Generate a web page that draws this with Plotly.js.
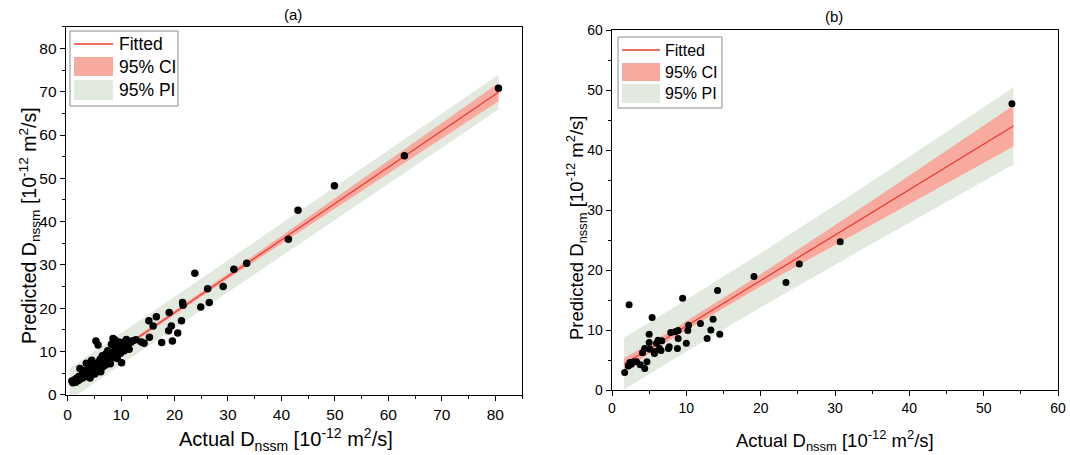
<!DOCTYPE html>
<html>
<head>
<meta charset="utf-8">
<script src="https://cdn.plot.ly/plotly-3.0.1.min.js"></script>
<style>html,body{margin:0;padding:0;background:#fff;}#chart{width:1070px;height:455px;}</style>
</head>
<body>
<div id="chart"></div>
<script>
// ---------- Panel (a) data ----------
const aActual = [0.8,1.0,1.3,1.5,1.7,2.0,2.1,2.3,2.4,2.6,2.8,3.0,3.1,3.3,3.5,3.6,3.8,3.9,4.1,4.2,4.4,4.5,4.6,4.8,5.0,5.1,5.3,5.4,5.5,5.7,5.8,5.9,6.1,6.2,6.4,6.5,6.6,6.8,7.0,7.1,7.2,7.4,7.5,7.7,7.9,8.0,8.2,8.3,8.5,8.6,8.8,8.9,9.0,9.2,9.3,9.5,9.6,9.8,9.9,10.1,10.2,10.4,10.6,10.8,11.0,11.2,11.5,11.8,12.2,
  12.8,13.8,14.3,15.2,15.3,16.0,16.6,17.6,19.0,18.9,19.4,19.6,20.6,21.3,21.5,21.6,23.8,24.9,26.2,26.5,29.1,31.1,33.5,41.3,43.1,49.9,63.0,80.6];
const aPred = [3.2,2.8,3.5,2.9,3.8,3.3,4.2,6.1,3.7,4.5,3.9,4.8,5.6,4.2,7.3,5.1,4.6,6.0,5.4,3.9,6.6,8.0,5.0,6.2,7.1,4.8,12.4,6.4,5.6,11.5,7.6,6.1,8.2,5.3,7.0,9.0,6.5,7.8,8.6,6.9,9.5,7.4,10.2,8.0,9.1,7.2,11.7,9.8,13.0,8.6,12.7,10.4,9.2,11.3,8.4,10.8,12.2,12.0,9.6,7.4,11.0,11.5,10.2,12.4,12.8,11.0,10.5,12.1,12.5,
  12.7,12.2,11.9,17.1,13.3,15.9,18.0,12.1,19.0,14.8,15.9,12.4,14.3,17.1,21.3,20.7,28.1,20.3,24.5,21.3,25.0,29.0,30.4,35.9,42.6,48.3,55.2,70.8];
const aBandX  = [0.4, 10, 30, 55, 80.6];
const aFit    = [2.5, 10.6, 27.4, 48.4, 69.9];
const aCILow  = [1.9, 10.2, 26.8, 47.1, 67.8];
const aCIHigh = [3.1, 11.0, 28.0, 49.7, 72.0];
const aPILow  = [-1.2, 7.0, 23.7, 44.6, 65.9];
const aPIHigh = [6.2, 14.2, 31.1, 52.2, 73.9];

// ---------- Panel (b) data ----------
const bActual = [1.7,2.2,2.4,2.6,2.9,3.3,2.3,3.8,4.4,4.7,4.1,4.4,5.0,5.0,5.4,5.8,6.0,6.2,6.4,6.6,6.7,7.6,7.7,7.9,8.5,8.8,8.9,8.9,9.5,10.0,10.2,10.3,11.9,12.8,13.3,13.6,14.2,14.5,19.1,23.4,25.2,30.7,53.8,5.1,5.7];
const bPred   = [2.9,4.0,4.6,4.3,4.7,4.7,14.2,4.2,3.6,4.7,6.2,6.9,9.3,7.9,12.1,6.4,7.8,8.3,6.9,6.6,8.2,6.9,7.2,9.6,9.7,6.9,9.9,8.6,15.3,7.8,9.9,10.8,11.1,8.6,10.0,11.8,16.6,9.3,18.9,17.9,21.0,24.7,47.7,6.8,6.1];
const bBandX  = [1.6, 8, 20, 35, 54];
const bFit    = [4.3, 9.2, 18.3, 29.6, 44.0];
const bCILow  = [3.3, 8.5, 17.3, 27.6, 40.6];
const bCIHigh = [5.3, 9.9, 19.3, 31.6, 47.4];
const bPILow  = [0.1, 4.9, 13.8, 24.4, 37.6];
const bPIHigh = [8.7, 13.5, 22.8, 34.8, 50.4];

const legendNames = ['Fitted', '95% CI', '95% PI'];
const panelTitles = ['(a)', '(b)'];
const xTitle = 'Actual D<sub>nssm</sub> [10<sup>-12</sup> m<sup>2</sup>/s]';
const yTitle = 'Predicted D<sub>nssm</sub> [10<sup>-12</sup> m<sup>2</sup>/s]';

const RED = 'rgb(238,58,52)';
const CI_FILL = 'rgb(248,170,158)';
const PI_FILL = 'rgb(226,234,224)';
const FONT = 'Liberation Sans, Arial, sans-serif';
const W = 1070, H = 455;
const px = v => v / W;
const py = v => 1 - v / H;

function band(x, lo, hi) {
  return {x: x.concat(x.slice().reverse()), y: hi.concat(lo.slice().reverse())};
}

function panelTraces(xa, ya, bx, fit, ciL, ciH, piL, piH, ptsX, ptsY, msize) {
  const pi = band(bx, piL, piH);
  const ci = band(bx, ciL, ciH);
  return [
    {x: pi.x, y: pi.y, xaxis: xa, yaxis: ya, type: 'scatter', mode: 'lines', fill: 'toself',
     fillcolor: PI_FILL, line: {width: 0, color: PI_FILL}, name: legendNames[2], showlegend: false, hoverinfo: 'skip'},
    {x: ci.x, y: ci.y, xaxis: xa, yaxis: ya, type: 'scatter', mode: 'lines', fill: 'toself',
     fillcolor: CI_FILL, line: {width: 0, color: CI_FILL}, name: legendNames[1], showlegend: false, hoverinfo: 'skip'},
    {x: [bx[0], bx[bx.length-1]], y: [fit[0], fit[fit.length-1]], xaxis: xa, yaxis: ya, type: 'scatter', mode: 'lines',
     line: {width: 1.3, color: RED}, name: legendNames[0], showlegend: false},
    {x: ptsX, y: ptsY, xaxis: xa, yaxis: ya, type: 'scatter', mode: 'markers',
     marker: {color: '#000', size: msize}, showlegend: false}
  ];
}

const traces = []
  .concat(panelTraces('x', 'y', aBandX, aFit, aCILow, aCIHigh, aPILow, aPIHigh, aActual, aPred, 7.5))
  .concat(panelTraces('x2', 'y2', bBandX, bFit, bCILow, bCIHigh, bPILow, bPIHigh, bActual, bPred, 7));

function axis(domain, range, dtick, anchor, tsize) {
  return {
    domain: domain, range: range, anchor: anchor, dtick: dtick, tick0: 0,
    showgrid: false, zeroline: false, showline: true, linecolor: '#000', linewidth: 1.3,
    mirror: true, ticks: 'outside', ticklen: 5, tickwidth: 1, tickcolor: '#000',
    minor: {dtick: dtick / 2, ticks: 'outside', ticklen: 3, tickcolor: '#000', showgrid: false},
    tickfont: {family: FONT, size: tsize, color: '#000'}, automargin: false
  };
}

// manual legends (pixel boxes)
function legendParts(box, lineY, ciBox, piBox, symX0, symX1, textX, textYs, fsize) {
  const shapes = [
    {type: 'rect', xref: 'paper', yref: 'paper', x0: px(box[0]), x1: px(box[1]), y0: py(box[2]), y1: py(box[3]),
     line: {color: '#8c8c8c', width: 1}, fillcolor: '#fff', layer: 'above'},
    {type: 'line', xref: 'paper', yref: 'paper', x0: px(symX0), x1: px(symX1), y0: py(lineY), y1: py(lineY),
     line: {color: RED, width: 1.5}, layer: 'above'},
    {type: 'rect', xref: 'paper', yref: 'paper', x0: px(symX0), x1: px(symX1), y0: py(ciBox[0]), y1: py(ciBox[1]),
     line: {width: 0}, fillcolor: CI_FILL, layer: 'above'},
    {type: 'rect', xref: 'paper', yref: 'paper', x0: px(symX0), x1: px(symX1), y0: py(piBox[0]), y1: py(piBox[1]),
     line: {width: 0}, fillcolor: PI_FILL, layer: 'above'}
  ];
  const anns = legendNames.map((n, i) => ({
    text: n, xref: 'paper', yref: 'paper', x: px(textX), y: py(textYs[i]), xanchor: 'left', yanchor: 'middle',
    showarrow: false, font: {family: FONT, size: fsize, color: '#000'}
  }));
  return {shapes, anns};
}

const legA = legendParts([70, 178, 31, 106], 44, [57, 76], [80, 100], 74, 113, 117, [44, 67, 90], 17.5);
const legB = legendParts([618, 722, 37, 108], 50, [63, 81], [84, 103], 622, 660, 663, [50, 72, 94], 16);

function titleAnn(text, x, y, size, angle) {
  return {text: text, xref: 'paper', yref: 'paper', x: px(x), y: py(y), xanchor: 'center', yanchor: 'middle',
          showarrow: false, textangle: angle, font: {family: FONT, size: size, color: '#000'}};
}

const layout = {
  width: W, height: H,
  margin: {l: 0, r: 0, t: 0, b: 0},
  paper_bgcolor: '#fff', plot_bgcolor: '#fff',
  showlegend: false,
  xaxis: axis([px(66), px(522)], [-0.3, 85], 10, 'y', 15.5),
  yaxis: axis([1 - 394.8 / H, 1 - 26.8 / H], [0, 85], 10, 'x', 15.5),
  xaxis2: axis([px(612), px(1058)], [0, 60], 10, 'y2', 14),
  yaxis2: axis([1 - 390 / H, 1 - 30 / H], [0, 60], 10, 'x2', 14),
  shapes: legA.shapes.concat(legB.shapes),
  annotations: [
    titleAnn(panelTitles[0], 293, 15, 15, 0),
    titleAnn(panelTitles[1], 834, 17, 15, 0),
    titleAnn(xTitle, 286, 439, 20, 0),
    titleAnn(xTitle, 835, 440, 18.5, 0),
    titleAnn(yTitle, 29, 226, 19.5, -90),
    titleAnn(yTitle, 576, 228, 18.5, -90)
  ].concat(legA.anns, legB.anns)
};

Plotly.newPlot('chart', traces, layout, {displayModeBar: false, staticPlot: true});
</script>
</body>
</html>
